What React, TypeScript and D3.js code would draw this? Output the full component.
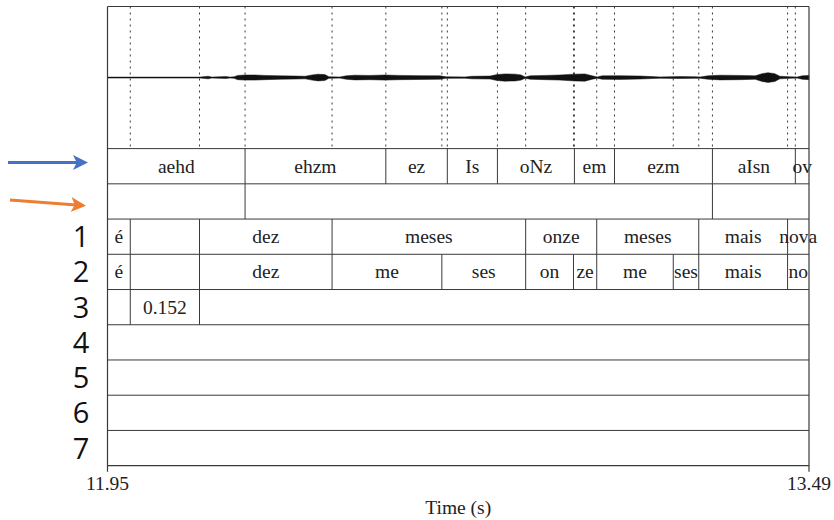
import * as d3 from 'd3';

// Time window (s)
const timeDomain = [11.95, 13.49];

// Waveform amplitude envelope (time s, half-amplitude)
const waveTimes = [
  11.95, 12.153, 12.171, 12.179, 12.21, 12.219, 12.228, 12.236, 12.252, 12.274, 12.296, 12.329,
  12.362, 12.384, 12.399, 12.412, 12.427, 12.436, 12.46, 12.474, 12.493, 12.526, 12.559, 12.592,
  12.636, 12.68, 12.693, 12.735, 12.75, 12.79, 12.805, 12.823, 12.845, 12.858, 12.867, 12.878,
  12.911, 12.943, 12.976, 12.998, 13.014, 13.025, 13.036, 13.075, 13.119, 13.145, 13.163, 13.207,
  13.24, 13.251, 13.268, 13.295, 13.339, 13.372, 13.387, 13.4, 13.415, 13.426, 13.448, 13.464,
  13.475, 13.49,
];
const waveAmps = [
  0.006, 0.006, 0.018, 0.006, 0.014, 0.006, 0.011, 0.03, 0.036, 0.036, 0.03, 0.024,
  0.021, 0.018, 0.036, 0.047, 0.042, 0.011, 0.008, 0.024, 0.033, 0.03, 0.036, 0.03,
  0.027, 0.024, 0.011, 0.009, 0.018, 0.021, 0.042, 0.051, 0.048, 0.036, 0.009, 0.024,
  0.03, 0.036, 0.048, 0.051, 0.024, 0.009, 0.024, 0.026, 0.021, 0.014, 0.009, 0.014,
  0.011, 0.009, 0.024, 0.033, 0.03, 0.024, 0.055, 0.068, 0.055, 0.018, 0.011, 0.008,
  0.024, 0.03,
];

// Tier boundaries (s) and interval labels
const tierABounds = [12.252, 12.561, 12.696, 12.806, 12.975, 13.063, 13.278, 13.46];
const tierALabels = ['aehd', 'ehzm', 'ez', 'Is', 'oNz', 'em', 'ezm', 'aIsn', 'ov'];
const tierBBounds = [12.252, 13.278];
const tierBLabels = ['', '', ''];
const tier1Bounds = [12.0, 12.152, 12.443, 12.868, 13.024, 13.248, 13.443];
const tier1Labels = ['é', '', 'dez', 'meses', 'onze', 'meses', 'mais', 'nova'];
const tier2Bounds = [12.0, 12.152, 12.443, 12.684, 12.868, 12.973, 13.024, 13.192, 13.248, 13.443];
const tier2Labels = ['é', '', 'dez', 'me', 'ses', 'on', 'ze', 'me', 'ses', 'mais', 'no'];
const tier3Bounds = [12.0, 12.152];
const tier3Labels = ['', '0.152', ''];

const tierNames = ['', '', '1', '2', '3', '4', '5', '6', '7'];

const tiers = [
  { bounds: tierABounds, labels: tierALabels },
  { bounds: tierBBounds, labels: tierBLabels },
  { bounds: tier1Bounds, labels: tier1Labels },
  { bounds: tier2Bounds, labels: tier2Labels },
  { bounds: tier3Bounds, labels: tier3Labels },
  { bounds: [], labels: [''] },
  { bounds: [], labels: [''] },
  { bounds: [], labels: [''] },
  { bounds: [], labels: [''] },
];

const W = 834;
const H = 520;
const left = 107.5;
const right = 809;
const top = 6.5;
const waveBottom = 148.6;
const rowH = 35.23;
const bottom = waveBottom + rowH * tiers.length;
const lineColor = '#3a3a3a';
const serif = 'Liberation Serif, Times New Roman, serif';
const labelSize = 19.5;

export default function App() {
  const x = d3.scaleLinear().domain(timeDomain).range([left, right]);
  const y = d3.scaleLinear().domain([-1, 1]).range([waveBottom, top]);

  const waveData = waveTimes.map((t, i) => ({ t, a: waveAmps[i] }));
  const area = d3.area<{ t: number; a: number }>()
    .x(d => x(d.t))
    .y0(d => y(-d.a))
    .y1(d => y(d.a));

  const allBounds = Array.from(new Set(tiers.flatMap(t => t.bounds))).sort((a, b) => a - b);

  return (
    <svg width={W} height={H} style={{ position: 'absolute', left: 0, top: 0, background: '#fff' }}>
      <defs>
        <marker id="headBlue" viewBox="0 0 10 10" refX="8" refY="5" markerWidth="5" markerHeight="5" orient="auto">
          <path d="M0,0 L10,5 L0,10 L2.5,5 z" fill="#4472C4" />
        </marker>
        <marker id="headOrange" viewBox="0 0 10 10" refX="8" refY="5" markerWidth="5" markerHeight="5" orient="auto">
          <path d="M0,0 L10,5 L0,10 L2.5,5 z" fill="#ED7D31" />
        </marker>
      </defs>

      {/* dotted boundary lines in waveform panel */}
      {allBounds.map((b, i) => (
        <line key={i} x1={x(b)} x2={x(b)} y1={top} y2={waveBottom}
          stroke={lineColor} strokeWidth={1} strokeDasharray="2,4" />
      ))}

      {/* waveform */}
      <line x1={left} x2={right} y1={y(0)} y2={y(0)} stroke="#111" strokeWidth={1} />
      <path d={area(waveData) ?? ''} fill="#111" stroke="#111" strokeWidth={0.5} />

      {/* tiers */}
      {tiers.map((tier, ti) => {
        const y0 = waveBottom + ti * rowH;
        const edges = [timeDomain[0], ...tier.bounds, timeDomain[1]];
        return (
          <g key={ti}>
            {tier.bounds.map((b, i) => (
              <line key={i} x1={x(b)} x2={x(b)} y1={y0} y2={y0 + rowH} stroke={lineColor} strokeWidth={1} />
            ))}
            {tier.labels.map((lab, i) => lab ? (
              <text key={'t' + i} x={(x(edges[i]) + x(edges[i + 1])) / 2} y={y0 + rowH / 2 + 6.5}
                textAnchor="middle" style={{ fontFamily: serif, fontSize: labelSize }} fill="#222">{lab}</text>
            ) : null)}
            <line x1={left} x2={right} y1={y0} y2={y0} stroke={lineColor} strokeWidth={1} />
            {tierNames[ti] && (
              <text x={81} y={y0 + rowH / 2 + 10.5} textAnchor="middle"
                style={{ fontFamily: 'Open Sans, Noto Sans, sans-serif', fontSize: 29 }} fill="#111">{tierNames[ti]}</text>
            )}
          </g>
        );
      })}

      {/* frame */}
      <line x1={left} x2={right} y1={top} y2={top} stroke={lineColor} strokeWidth={1} />
      <line x1={left} x2={right} y1={bottom} y2={bottom} stroke={lineColor} strokeWidth={1.2} />
      <line x1={left} x2={left} y1={top} y2={bottom + 6} stroke={lineColor} strokeWidth={1.2} />
      <line x1={right} x2={right} y1={top} y2={bottom + 6} stroke={lineColor} strokeWidth={1.2} />

      {/* axis labels */}
      {timeDomain.map((t, i) => (
        <text key={i} x={x(t)} y={490} textAnchor="middle" style={{ fontFamily: serif, fontSize: labelSize }} fill="#222">
          {t.toFixed(2)}
        </text>
      ))}
      <text x={(left + right) / 2} y={514} textAnchor="middle" style={{ fontFamily: serif, fontSize: labelSize }} fill="#222">
        Time (s)
      </text>

      {/* arrows */}
      <line x1={8} y1={162.5} x2={85} y2={162.5} stroke="#4472C4" strokeWidth={3} markerEnd="url(#headBlue)" />
      <line x1={10} y1={200} x2={83} y2={205.5} stroke="#ED7D31" strokeWidth={3} markerEnd="url(#headOrange)" />
    </svg>
  );
}
